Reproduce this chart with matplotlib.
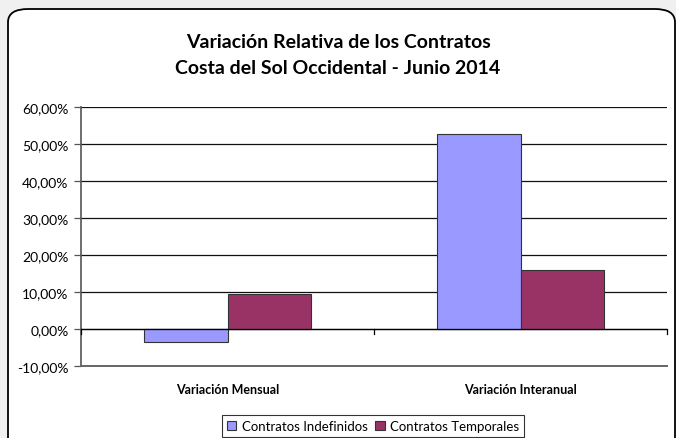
import numpy as np
import matplotlib.pyplot as plt
from matplotlib.patches import FancyBboxPatch
from matplotlib.ticker import FuncFormatter

# data
categories = ['Variación Mensual', 'Variación Interanual']
series_names = ['Contratos Indefinidos', 'Contratos Temporales']
indefinidos = [-3.3, 52.8]
temporales = [9.5, 16.1]
y_ticks = [-10, 0, 10, 20, 30, 40, 50, 60]

colors = ['#9999FF', '#993366']

plt.rcParams['font.family'] = ['Lato', 'DejaVu Sans']

W, H = 676, 439
fig = plt.figure(figsize=(W / 100, H / 100), dpi=100)
fig.patch.set_facecolor('#F0F0F0')

# rounded chart frame
frame = FancyBboxPatch((8 / W, -0.05), (675 - 8) / W, (H - 10) / H + 0.05,
                       boxstyle='round,pad=0,rounding_size=0.03',
                       transform=fig.transFigure, facecolor='white',
                       edgecolor='black', linewidth=1.3, zorder=-10)
fig.patches.append(frame)

ax = fig.add_axes([81 / W, 1 - 367.3 / H, (667 - 81) / W, (367.3 - 108.3) / H])
ax.set_facecolor('none')
ax.set_zorder(5)

x = np.arange(len(categories))
bw = 0.286
ax.bar(x - bw / 2, indefinidos, bw, color=colors[0], edgecolor='#333333',
       linewidth=0.8, label=series_names[0], zorder=3)
ax.bar(x + bw / 2, temporales, bw, color=colors[1], edgecolor='#333333',
       linewidth=0.8, label=series_names[1], zorder=3)

ax.set_xlim(-0.5, 1.5)
ax.set_ylim(-10, 60)
ax.set_yticks(y_ticks)
ax.yaxis.set_major_formatter(FuncFormatter(lambda v, p: f'{v:.2f}%'.replace('.', ',')))
ax.grid(axis='y', color='#111111', linewidth=0.9, zorder=1)
ax.tick_params(axis='y', length=5, width=0.9, color='#555555', labelsize=10, pad=4)

for s in ['top', 'right']:
    ax.spines[s].set_visible(False)
ax.spines['left'].set_color('#555555')
ax.spines['left'].set_linewidth(1.2)
ax.spines['bottom'].set_color('#666666')
ax.spines['bottom'].set_linewidth(1.4)

# x axis drawn at zero with ticks between categories
ax.axhline(0, color='black', linewidth=0.9, zorder=4)
ax.set_xticks([])
for b in [-0.5, 0.5, 1.5]:
    ax.plot([b, b], [0, -1.3], color='black', linewidth=0.9, clip_on=False, zorder=4)
for xi, c in zip(x, categories):
    ax.text(xi, -16, c, ha='center', va='center', fontsize=9,
            fontweight='bold')

fig.text(0.5, 1 - 43 / H, 'Variación Relativa de los Contratos', ha='center',
         va='center', fontsize=14, fontweight='bold')
fig.text(0.5, 1 - 69 / H, 'Costa del Sol Occidental - Junio 2014', ha='center',
         va='center', fontsize=14, fontweight='bold')

leg = fig.legend(loc='center', bbox_to_anchor=(373 / W, 1 - 427 / H), ncol=2,
                 fontsize=9.5, frameon=True, fancybox=False, handlelength=0.7,
                 handleheight=0.7, handletextpad=0.4, columnspacing=0.6,
                 borderpad=0.4, edgecolor='black')
leg.get_frame().set_linewidth(0.8)

fig.savefig('out.png', dpi=100, facecolor=fig.get_facecolor())
